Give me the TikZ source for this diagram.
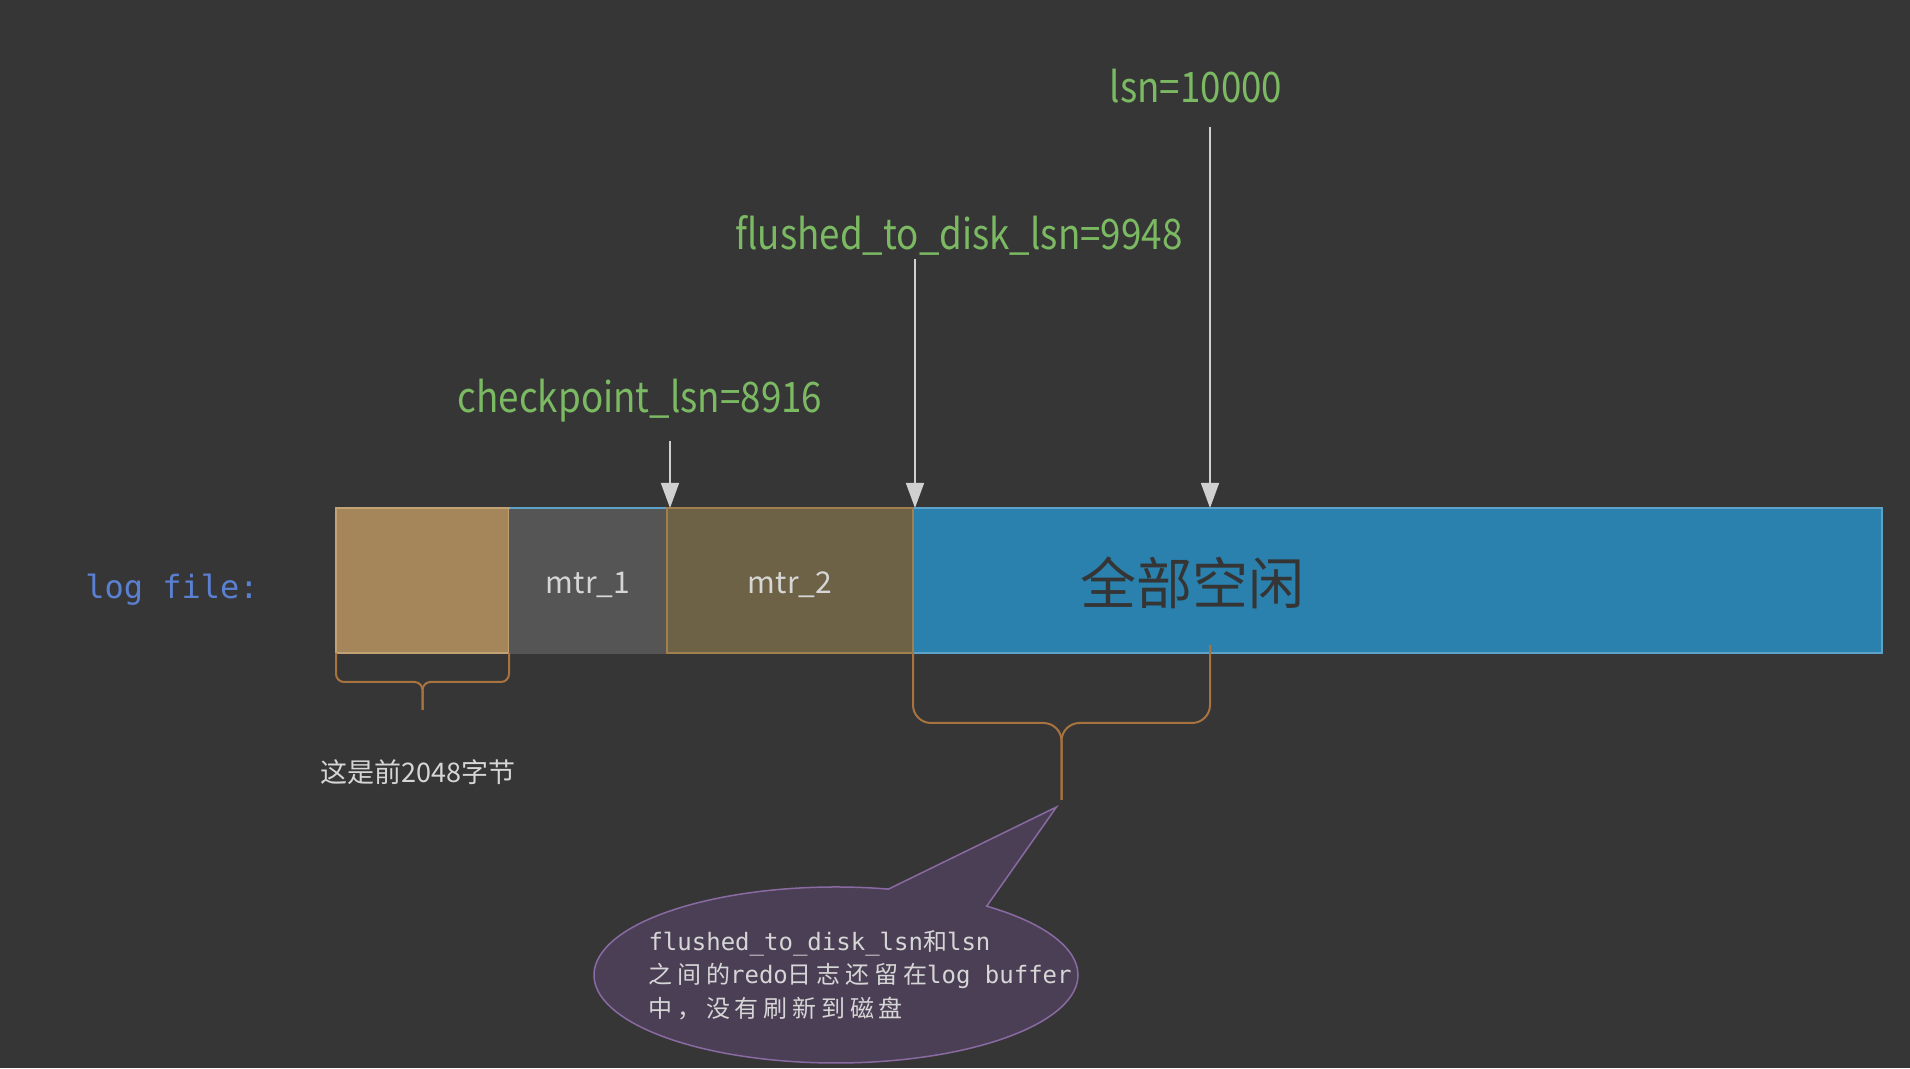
\documentclass[tikz,border=0pt]{standalone}
\usepackage{fontspec}
\setmainfont{Noto Sans CJK SC}
\setmonofont{DejaVu Sans Mono}
\newfontfamily\cjk{Noto Sans CJK SC}
\newfontfamily\cjkmono{Noto Sans CJK SC}[LetterSpace=20]
\newfontfamily\lblfont{Noto Sans CJK SC}[FakeStretch=0.875]
\usetikzlibrary{positioning,calc,arrows.meta,shapes.callouts}
\definecolor{bgdark}{HTML}{363636}
\definecolor{freeblue}{HTML}{2A81AD}
\definecolor{freeedge}{HTML}{5DA2C8}
\definecolor{hdrtan}{HTML}{A5865A}
\definecolor{hdredge}{HTML}{C2A272}
\definecolor{mtrgray}{HTML}{555555}
\definecolor{mtrolive}{HTML}{6D6246}
\definecolor{oliveedge}{HTML}{A0804C}
\definecolor{lsngreen}{HTML}{7BBA62}
\definecolor{logblue}{HTML}{5B80D2}
\definecolor{arrowgray}{HTML}{D0D0D0}
\definecolor{bracebrown}{HTML}{A8733F}
\definecolor{bubblefill}{HTML}{4B3F55}
\definecolor{bubbleedge}{HTML}{8A6AA2}
\definecolor{lighttext}{HTML}{D6D6D6}
\definecolor{freetext}{HTML}{353535}
\tikzset{
  seg/.style={rectangle, minimum height=145pt, inner sep=0pt, outer sep=0pt, line width=2pt},
  pointer/.style={draw=arrowgray, line width=1.5pt, -{Triangle[width=18pt,length=25pt,fill=arrowgray]}},
  lsnlabel/.style={text=lsngreen, font=\lblfont\fontsize{42}{50}\selectfont},
  brc/.style={draw=bracebrown, line width=2pt},
  bubble/.style={ellipse callout, draw=bubbleedge, fill=bubblefill, line width=1.5pt,
    minimum width=484pt, minimum height=176pt, inner sep=0pt, callout pointer arc=26},
  notetext/.style={text=lighttext, align=left, font=\ttfamily\fontsize{24}{33.5}\selectfont}
}
\begin{document}
\begin{tikzpicture}[x=1pt,y=1pt]
\useasboundingbox (0,0) rectangle (1910,1068);
\fill[bgdark] (0,0) rectangle (1910,1068);
% the log file bar
\node[seg, fill=freeblue, draw=freeedge, minimum width=1546pt, anchor=west] (free) at (336,487.5) {};
\node[seg, fill=hdrtan, draw=hdredge, minimum width=173pt, anchor=west] (hdr) at (free.west) {};
\node[seg, fill=mtrgray, minimum width=158pt, right=0pt of hdr, yshift=-1.5pt] (mtr1) {};
\node[seg, fill=mtrolive, draw=oliveedge, minimum width=246pt, right=0pt of mtr1, yshift=1.5pt] (mtr2) {};
\node[text=lighttext, font=\fontsize{30}{36}\selectfont] at ($(mtr1)+(0,-3)$) {mtr\_1};
\node[text=lighttext, font=\fontsize{30}{36}\selectfont] at ($(mtr2)+(0,-4)$) {mtr\_2};
\node[text=freetext, font=\cjk\fontsize{56}{60}\selectfont] (freetxt) at (1192,485) {全部空闲};
\node[text=logblue, font=\ttfamily\fontsize{32}{38}\selectfont] (logname) at (172,478) {log file:};
% lsn pointers
\coordinate (ckp) at (670,627);
\coordinate (fls) at (915,809);
\coordinate (cur) at (1210,941);
\node[lsnlabel] (ckplabel) at (640,667) {checkpoint\_lsn=8916};
\node[lsnlabel] (flslabel) at (959,833) {flushed\_to\_disk\_lsn=9948};
\node[lsnlabel] (curlabel) at (1196,982) {lsn=10000};
\draw[pointer] (ckp) -- (ckp |- free.north);
\draw[pointer] (fls) -- (fls |- free.north);
\draw[pointer] (cur) -- (cur |- free.north);
% braces
\draw[brc, rounded corners=8pt] (hdr.south west) -- ++(0,-29) -| ($(hdr.south)+(0,-57)$);
\draw[brc, rounded corners=8pt] (hdr.south east) -- ++(0,-29) -| ($(hdr.south)+(0,-57)$);
\node[text=lighttext, font=\cjk\fontsize{27}{32}\selectfont] (hdrnote) at (418,296) {这是前2048字节};
\coordinate (gaptip) at ($(mtr2.south east)!0.5!(cur |- free.south)+(0,-147)$);
\draw[brc, rounded corners=18pt] (mtr2.south east) -- ++(0,-70) -| (gaptip);
\draw[brc, rounded corners=18pt] ($(cur |- free.south)+(0,8)$) -- ++(0,-78) -| (gaptip);
% callout
\node[bubble, callout absolute pointer={($(gaptip)+(-5,-7)$)}] (bubble) at (836,93) {};
\node[notetext, anchor=west] (note) at ($(bubble.center)+(-191,0)$)
  {flushed\_to\_disk\_lsn{\cjkmono 和}lsn\\
   {\cjkmono 之间的}redo{\cjkmono 日志还留在}log buffer\\
   {\cjkmono 中，没有刷新到磁盘}};
\end{tikzpicture}
\end{document}
